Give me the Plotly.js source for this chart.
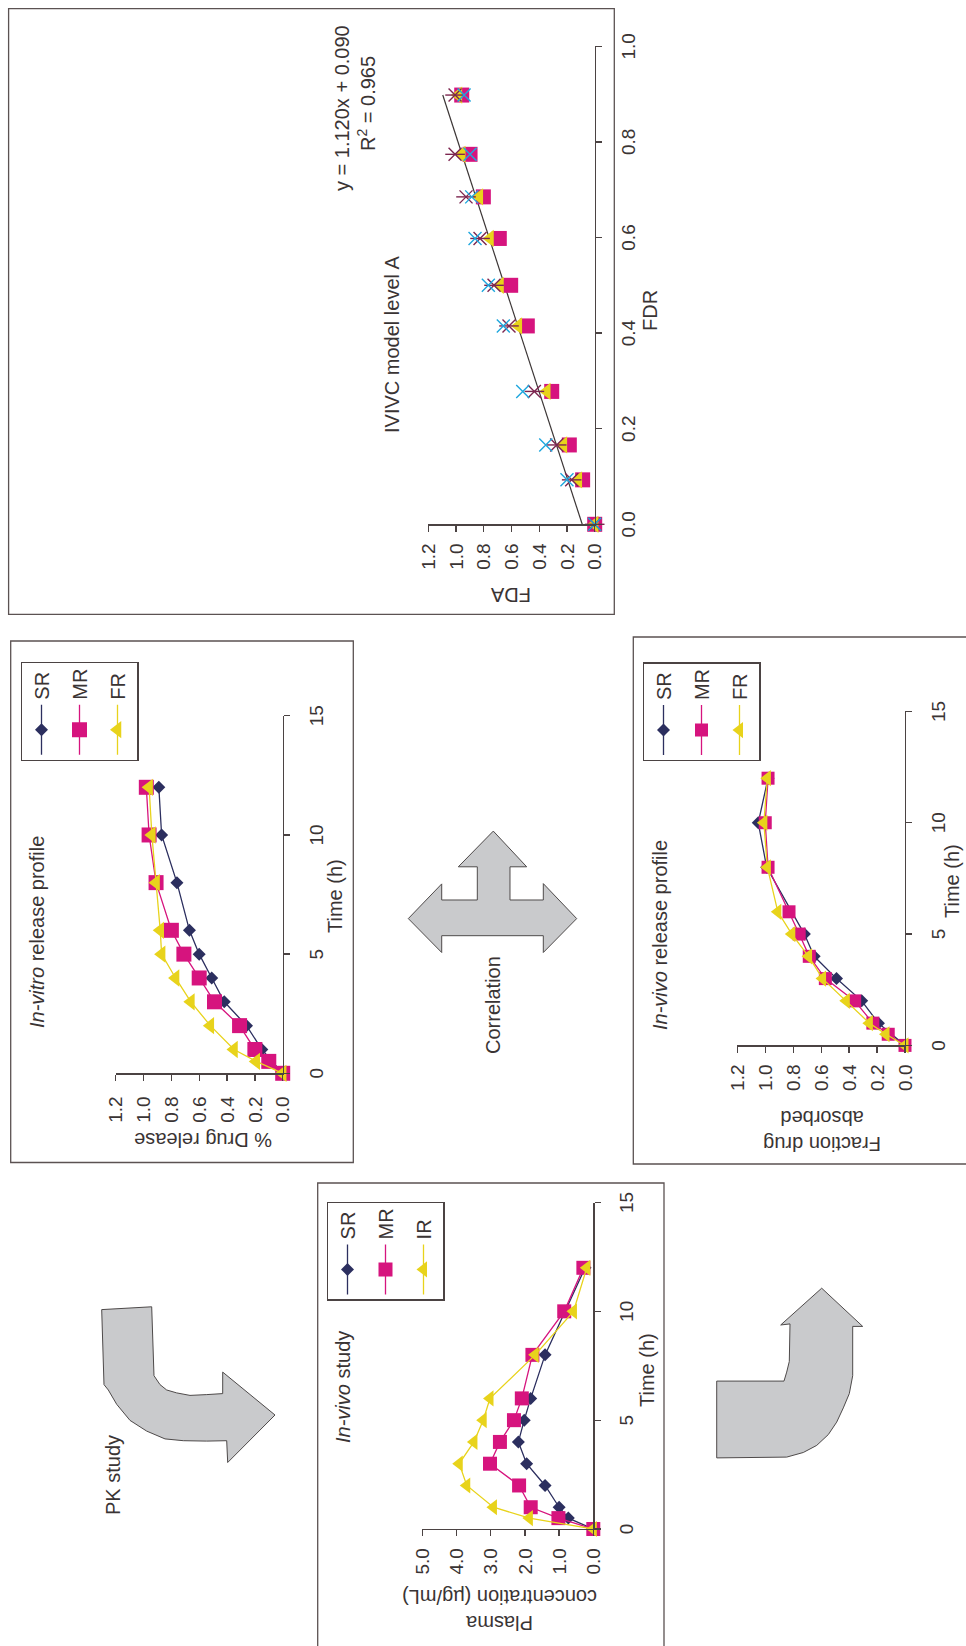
<!DOCTYPE html>
<html>
<head>
<meta charset="utf-8">
<script src="https://cdn.plot.ly/plotly-3.0.1.min.js"></script>
<style>
  html, body { margin: 0; padding: 0; background: #fff; overflow: hidden; width: 966px; height: 1646px; }
  /* the figure is laid out landscape and turned a quarter-turn onto the portrait page */
  #frame { position: absolute; left: 0; top: 0; width: 1646px; height: 966px;
           transform-origin: 0 0; transform: translateY(1646px) rotate(-90deg); }
</style>
</head>
<body>
<div id="frame"></div>
<script>
// ---------------- data ----------------
// In-vitro release profile (fraction released vs time, h)
const vitroTimeSR = [0, 1, 2, 3, 4, 5, 6, 8, 10, 12];
const vitroSR     = [0, 0.15, 0.26, 0.42, 0.51, 0.60, 0.67, 0.76, 0.87, 0.89];
const vitroTime   = [0, 0.5, 1, 2, 3, 4, 5, 6, 8, 10, 12];
const vitroMR     = [0, 0.10, 0.20, 0.31, 0.49, 0.60, 0.71, 0.80, 0.91, 0.96, 0.98];
const vitroFR     = [0, 0.19, 0.35, 0.52, 0.66, 0.77, 0.87, 0.88, 0.91, 0.94, 0.96];

// In-vivo release profile (fraction absorbed vs time, h)
const absTimeSR = [0, 1, 2, 3, 4, 5, 8, 10, 12];
const absSR     = [0, 0.19, 0.31, 0.49, 0.65, 0.72, 0.99, 1.05, 0.98];
const absTime   = [0, 0.5, 1, 2, 3, 4, 5, 6, 8, 10, 12];
const absMR     = [0, 0.12, 0.23, 0.36, 0.57, 0.685, 0.757, 0.83, 0.98, 1.00, 0.98];
const absFR     = [0, 0.136, 0.255, 0.42, 0.59, 0.69, 0.81, 0.91, 0.985, 1.01, 0.985];

// In-vivo study (plasma concentration, ug/mL, vs time, h)
const pkTime = [0, 0.5, 1, 2, 3, 4, 5, 6, 8, 10, 12];
const pkSR   = [0, 0.73, 1.00, 1.41, 1.95, 2.19, 2.02, 1.83, 1.41, 0.83, 0.24];
const pkMR   = [0, 1.02, 1.83, 2.17, 3.02, 2.73, 2.32, 2.09, 1.78, 0.85, 0.29];
const pkIR   = [0, 1.87, 2.92, 3.70, 3.92, 3.49, 3.22, 3.02, 1.70, 0.58, 0.19];

// IVIVC level A (FDA vs FDR)
const ivivcFDR      = [0, 0.093, 0.166, 0.278, 0.415, 0.500, 0.598, 0.685, 0.774, 0.898];
const ivivcSquare   = [0, 0.087, 0.183, 0.310, 0.486, 0.606, 0.688, 0.803, 0.899, 0.959];
const ivivcTriangle = [0, 0.118, 0.226, 0.346, 0.551, 0.683, 0.755, 0.832, 0.959, 0.983];
const ivivcStar     = [0, 0.166, 0.274, 0.435, 0.618, 0.726, 0.827, 0.928, 1.007, 1.007];
const ivivcCross    = [0, 0.200, 0.353, 0.519, 0.659, 0.767, 0.863, 0.887, 0.899, 0.942];
const trendSlope = 1.120;
const trendIntercept = 0.090;
const trendR2 = 0.965;

// tick values
const timeTicks = [0, 5, 10, 15];
const fracTicks = [0, 0.2, 0.4, 0.6, 0.8, 1.0, 1.2];
const concTicks = [0, 1, 2, 3, 4, 5];
const fdrTicks  = [0, 0.2, 0.4, 0.6, 0.8, 1.0];

// ---------------- styling ----------------
const NAVY = '#2c2f5f', MAGENTA = '#d6147e', YELLOW = '#e8d31b';
const CYAN = '#1ea7de', MAROON = '#7d2650';
const AX = '#4b4343', TXT = '#3a3434', BOX = '#5b5252';
const FONT = 'Arial, "Liberation Sans", sans-serif';

// figure frame (landscape), pixel helpers -> paper fractions
const W = 1646, H = 966;
const px = u => u / W;
const py = v => 1 - v / H;
const domX = (a, b) => [px(a), px(b)];
const domY = (top, bottom) => [py(bottom), py(top)];

function series(x, y, name, color, symbol, size, xa, ya, legend) {
  return {
    type: 'scatter', mode: 'lines+markers', x, y, name,
    xaxis: xa, yaxis: ya, legend, legendgroup: xa + name,
    line: { color, width: 1.3 },
    marker: { color, symbol, size, line: { width: 0 } },
    cliponaxis: false, hoverinfo: 'skip'
  };
}

const data = [
  // in-vitro
  series(vitroTimeSR, vitroSR, 'SR', NAVY, 'diamond', 10, 'x', 'y', 'legend'),
  series(vitroTime, vitroMR, 'MR', MAGENTA, 'square', 15, 'x', 'y', 'legend'),
  series(vitroTime, vitroFR, 'FR', YELLOW, 'triangle-up', 15, 'x', 'y', 'legend'),
  // in-vivo release
  series(absTimeSR, absSR, 'SR', NAVY, 'diamond', 10, 'x2', 'y2', 'legend2'),
  series(absTime, absMR, 'MR', MAGENTA, 'square', 13, 'x2', 'y2', 'legend2'),
  series(absTime, absFR, 'FR', YELLOW, 'triangle-up', 14, 'x2', 'y2', 'legend2'),
  // in-vivo study
  series(pkTime, pkSR, 'SR', NAVY, 'diamond', 10, 'x3', 'y3', 'legend3'),
  series(pkTime, pkMR, 'MR', MAGENTA, 'square', 14, 'x3', 'y3', 'legend3'),
  series(pkTime, pkIR, 'IR', YELLOW, 'triangle-up', 14, 'x3', 'y3', 'legend3'),
];

// IVIVC scatter + linear trend line
function ivivcPoints(y, color, symbol, size, open) {
  return {
    type: 'scatter', mode: 'markers', x: ivivcFDR, y, xaxis: 'x4', yaxis: 'y4',
    marker: open ? { color, symbol, size, line: { color, width: 1.4 } }
                 : { color, symbol, size, line: { width: 0 } },
    showlegend: false, cliponaxis: false, hoverinfo: 'skip'
  };
}
const fdrMax = Math.max(...ivivcFDR);
data.push({
  type: 'scatter', mode: 'lines', xaxis: 'x4', yaxis: 'y4',
  x: [0, fdrMax], y: [trendIntercept, trendSlope * fdrMax + trendIntercept],
  line: { color: '#3c3636', width: 1.2 }, showlegend: false, hoverinfo: 'skip'
});
data.push(ivivcPoints(ivivcSquare, MAGENTA, 'square', 15, false));
data.push(ivivcPoints(ivivcTriangle, YELLOW, 'triangle-up', 15, false));
// star marker: a cross with a vertical bar through it
data.push(ivivcPoints(ivivcStar, MAROON, 'x-thin-open', 13, true));
data.push(ivivcPoints(ivivcStar, MAROON, 'line-ns-open', 14, true));
data.push(ivivcPoints(ivivcCross, CYAN, 'x-thin-open', 13, true));

// ---------------- axes ----------------
function xAxis(domain, range, tickvals, anchor, fmt) {
  return {
    domain, range, tickvals, anchor, tickformat: fmt,
    showline: true, linecolor: AX, linewidth: 1.3,
    ticks: 'outside', ticklen: 6, tickwidth: 1.3, tickcolor: AX,
    ticklabelstandoff: 10,
    showgrid: false, zeroline: false, fixedrange: true,
    tickfont: { size: 19, color: TXT, family: FONT }
  };
}
function yAxis(domain, range, tickvals, anchor, fmt, standoff) {
  return {
    domain, range, tickvals, anchor, tickformat: fmt,
    showline: true, linecolor: AX, linewidth: 1.3,
    ticks: 'outside', ticklen: 6, tickwidth: 1.3, tickcolor: AX,
    ticklabelstandoff: standoff,
    showgrid: false, zeroline: false, fixedrange: true,
    tickfont: { size: 19, color: TXT, family: FONT }
  };
}

// ---------------- text ----------------
function label(text, u, v, angle, size) {
  return {
    xref: 'paper', yref: 'paper', x: px(u), y: py(v), text,
    textangle: angle || 0, showarrow: false, xanchor: 'center', yanchor: 'middle',
    font: { size: size || 20, color: TXT, family: FONT }
  };
}
const annotations = [
  label('y = ' + trendSlope.toFixed(3) + 'x + ' + trendIntercept.toFixed(3), 1538, 341.7),
  label('R<sup>2</sup> = ' + trendR2.toFixed(3), 1542, 366.7),
  label('IVIVC model level A', 1301, 391.7),
  label('FDA', 1051, 511, -90),
  label('FDR', 1335, 650),
  label('<i>In-vitro</i> release profile', 714, 36.7),
  label('% Drug release', 506, 203, -90),
  label('Time (h)', 750, 335),
  label('Correlation', 641, 493.3),
  label('PK study', 171, 113.3),
  label('<i>In-vivo</i> release profile', 711, 660),
  label('Fraction drug<br>absorbed', 515, 822, -90),
  label('Time (h)', 765, 951.5),
  label('<i>In-vivo</i> study', 259, 343.3),
  label('Plasma<br>concentration (µg/mL)', 36, 500, -90),
  label('Time (h)', 276, 647),
];

// ---------------- frames and arrows ----------------
function box(u0, u1, v0, v1) {
  return { type: 'rect', xref: 'paper', yref: 'paper',
           x0: px(u0), x1: px(u1), y0: py(v1), y1: py(v0),
           line: { color: BOX, width: 1.3 }, fillcolor: 'rgba(0,0,0,0)' };
}
function polygon(points) {
  const d = points.map((p, i) => (i ? 'L' : 'M') + px(p[0]).toFixed(5) + ',' + py(p[1]).toFixed(5)).join(' ') + ' Z';
  return { type: 'path', xref: 'paper', yref: 'paper', path: d,
           fillcolor: '#c9cacc', line: { color: '#4e4a4a', width: 1 } };
}
// arrow outlines in frame pixels (u to the right, v downward)
const pkArrow = [[336.4,101.7],[339.2,151.7],[270.3,154],[261.4,160],[256,166.7],[253.1,176.7],
  [250.6,190],[251.4,206.7],[252.4,222.7],[273.9,222.7],[231,275],[183.5,227.7],[205.3,226.7],
  [204.9,206.7],[205.3,183.3],[207.1,165],[214.9,146.7],[225.6,130],[241.7,116.7],[256,108.3],[261.4,104]];
const correlationArrow = [[727.4,408.3],[762.1,441.7],[746,441.7],[746,477.3],[779.2,477.3],[779.2,458.3],
  [814.9,493.3],[779.2,526.7],[779.2,510],[746,510],[746,543.3],[762.4,543.3],[727.4,576.7],
  [693.5,543.3],[710.3,543.3],[710.3,441.7],[693.5,441.7]];
const returnArrow = [[264.9,716.7],[264.9,784],[273.9,786.7],[284.6,789.3],[322.1,790],[321,780.7],
  [357.8,821.7],[319.6,862.7],[319.6,852.7],[270.3,852.7],[252.4,849.3],[238.1,843.3],[223.9,836.7],
  [211.4,828.3],[200.6,816.7],[193.5,803.3],[188.9,786.7],[188.1,716.7]];

const shapes = [
  box(1031.7, 1637.4, 8.6, 614.3),
  box(483.5, 1005, 10.7, 353.3),
  box(482, 1009, 633.3, 990),
  box(-10, 463, 317.7, 664),
  polygon(pkArrow), polygon(correlationArrow), polygon(returnArrow)
];

// ---------------- legends ----------------
function legendAt(u, v) {
  return {
    x: px(u), y: py(v), xanchor: 'left', yanchor: 'top',
    bordercolor: AX, borderwidth: 1.3, bgcolor: 'rgba(255,255,255,0)',
    font: { size: 20, color: TXT, family: FONT },
    itemwidth: 50, tracegroupgap: 9, traceorder: 'grouped'
  };
}

const layout = {
  width: W, height: H,
  margin: { l: 0, r: 0, t: 0, b: 0, pad: 0 },
  paper_bgcolor: '#ffffff', plot_bgcolor: 'rgba(0,0,0,0)',
  font: { family: FONT, color: TXT },
  showlegend: true,
  xaxis:  xAxis(domX(572.7, 930.2), [0, 15], timeTicks, 'y'),
  yaxis:  yAxis(domY(115.7, 282.7), [0, 1.2], fracTicks, 'x', '.1f', 12),
  xaxis2: xAxis(domX(600.6, 934.6), [0, 15], timeTicks, 'y2'),
  yaxis2: yAxis(domY(737.3, 905), [0, 1.2], fracTicks, 'x2', '.1f', 8),
  xaxis3: xAxis(domX(117, 443.5), [0, 15], timeTicks, 'y3'),
  yaxis3: yAxis(domY(422.3, 593.3), [0, 5], concTicks, 'x3', '.1f', 8),
  xaxis4: xAxis(domX(1121.7, 1599.7), [0, 1], fdrTicks, 'y4', '.1f'),
  yaxis4: yAxis(domY(428.3, 594.7), [0, 1.2], fracTicks, 'x4', '.1f', 8),
  legend:  legendAt(885, 20.7),
  legend2: legendAt(884.6, 642.7),
  legend3: legendAt(345.3, 326.7),
  annotations, shapes
};

Plotly.newPlot('frame', data, layout, { staticPlot: true, displayModeBar: false });
</script>
</body>
</html>
